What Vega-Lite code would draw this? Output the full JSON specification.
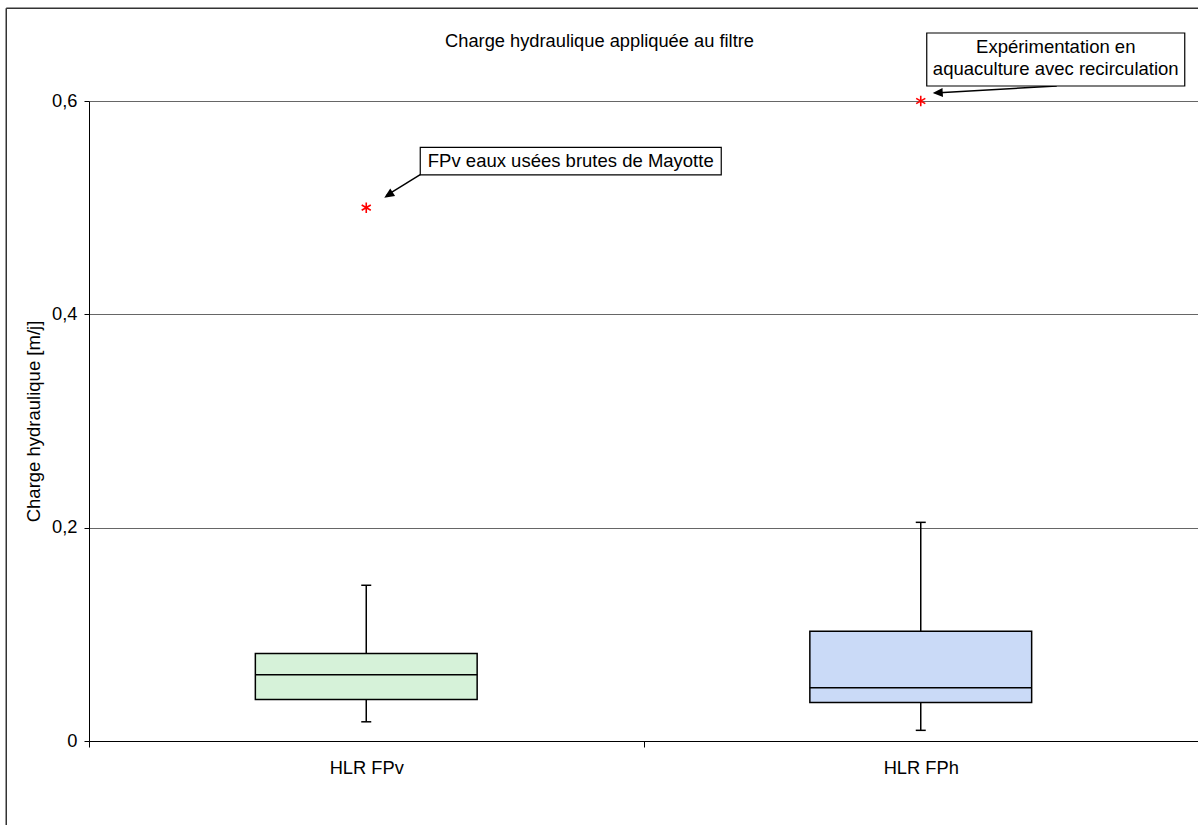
{
  "$schema": "https://vega.github.io/schema/vega-lite/v6.json",
  "width": 1109,
  "height": 640,
  "autosize": {"type": "none"},
  "padding": {"left": 89, "top": 101, "right": 0, "bottom": 84},
  "background": "white",
  "config": {"font": "Liberation Sans", "view": {"stroke": null}},
  "title": {
    "text": "Charge hydraulique appliquée au filtre",
    "fontSize": 18.3,
    "fontWeight": "normal",
    "color": "black",
    "anchor": "middle",
    "baseline": "alphabetic",
    "dx": -44,
    "offset": -57.5
  },
  "datasets": {
    "boxes": [
      {"cat": "HLR FPv", "min": 0.018, "q1": 0.039, "median": 0.062, "q3": 0.082, "max": 0.146},
      {"cat": "HLR FPh", "min": 0.010, "q1": 0.036, "median": 0.050, "q3": 0.103, "max": 0.205}
    ],
    "outliers": [
      {"cat": "HLR FPv", "value": 0.5, "note": "FPv eaux usées brutes de Mayotte"},
      {"cat": "HLR FPh", "value": 0.6, "note": "Expérimentation en\naquaculture avec recirculation"}
    ]
  },
  "layer": [
    {
      "data": {"name": "boxes"},
      "mark": {"type": "rule", "color": "black", "strokeWidth": 1.5},
      "encoding": {
        "x": {
          "field": "cat", "type": "nominal", "sort": ["HLR FPv", "HLR FPh"],
          "scale": {"paddingInner": 0, "paddingOuter": 0},
          "axis": {
            "title": null, "labelAngle": 0, "tickBand": "extent", "tickSize": 6,
            "tickColor": "black", "domainColor": "black", "domainWidth": 1,
            "labelFontSize": 18.3, "labelColor": "black", "labelPadding": 12,
            "labelBaseline": "top", "grid": false
          }
        },
        "y": {
          "field": "min", "type": "quantitative",
          "scale": {"domain": [0, 0.6], "nice": false, "zero": true},
          "axis": {
            "values": [0, 0.2, 0.4, 0.6],
            "labelExpr": "datum.value == 0 ? '0' : replace(format(datum.value, '.1f'), '.', ',')",
            "title": "Charge hydraulique [m/j]",
            "grid": true, "gridColor": "#666666", "gridWidth": 1,
            "domainColor": "black", "tickColor": "black", "tickSize": 5,
            "labelPadding": 7, "labelFontSize": 18.3, "labelColor": "black",
            "titleFontSize": 18.5, "titleFontWeight": "normal", "titleColor": "black",
            "titlePadding": 8
          }
        },
        "y2": {"field": "max"}
      }
    },
    {
      "data": {"name": "boxes"},
      "mark": {"type": "bar", "width": {"band": 0.4}, "stroke": "black", "strokeWidth": 1.5},
      "encoding": {
        "x": {"field": "cat", "type": "nominal", "sort": ["HLR FPv", "HLR FPh"]},
        "y": {"field": "q1", "type": "quantitative", "scale": {"domain": [0, 0.6], "nice": false, "zero": true}},
        "y2": {"field": "q3"},
        "fill": {
          "field": "cat", "type": "nominal",
          "scale": {"domain": ["HLR FPv", "HLR FPh"], "range": ["#d6f2d9", "#cadaf7"]},
          "legend": null
        }
      }
    },
    {
      "data": {"name": "boxes"},
      "mark": {"type": "tick", "size": 222, "thickness": 1.5, "color": "black", "opacity": 1},
      "encoding": {
        "x": {"field": "cat", "type": "nominal", "sort": ["HLR FPv", "HLR FPh"]},
        "y": {"field": "median", "type": "quantitative", "scale": {"domain": [0, 0.6], "nice": false, "zero": true}}
      }
    },
    {
      "data": {"name": "boxes"},
      "mark": {"type": "tick", "size": 10, "thickness": 1.5, "color": "black", "opacity": 1},
      "encoding": {
        "x": {"field": "cat", "type": "nominal", "sort": ["HLR FPv", "HLR FPh"]},
        "y": {"field": "max", "type": "quantitative", "scale": {"domain": [0, 0.6], "nice": false, "zero": true}}
      }
    },
    {
      "data": {"name": "boxes"},
      "mark": {"type": "tick", "size": 10, "thickness": 1.5, "color": "black", "opacity": 1},
      "encoding": {
        "x": {"field": "cat", "type": "nominal", "sort": ["HLR FPv", "HLR FPh"]},
        "y": {"field": "min", "type": "quantitative", "scale": {"domain": [0, 0.6], "nice": false, "zero": true}}
      }
    },
    {
      "data": {"name": "outliers"},
      "mark": {
        "type": "point",
        "shape": "M0,-1L0,1M-0.87,-0.5L0.87,0.5M-0.87,0.5L0.87,-0.5",
        "size": 110, "filled": false, "stroke": "#ff0000", "strokeWidth": 1.6, "opacity": 1
      },
      "encoding": {
        "x": {"field": "cat", "type": "nominal", "sort": ["HLR FPv", "HLR FPh"]},
        "y": {"field": "value", "type": "quantitative", "scale": {"domain": [0, 0.6], "nice": false, "zero": true}}
      }
    },
    {
      "data": {"name": "outliers"},
      "transform": [{"filter": "datum.cat == 'HLR FPv'"}],
      "mark": {"type": "rule", "color": "black", "strokeWidth": 1.5, "xOffset": 54, "yOffset": -33, "x2Offset": 20, "y2Offset": -12},
      "encoding": {
        "x": {"field": "cat", "type": "nominal", "sort": ["HLR FPv", "HLR FPh"]},
        "x2": {"field": "cat"},
        "y": {"field": "value", "type": "quantitative", "scale": {"domain": [0, 0.6], "nice": false, "zero": true}},
        "y2": {"field": "value"}
      }
    },
    {
      "data": {"name": "outliers"},
      "transform": [{"filter": "datum.cat == 'HLR FPv'"}],
      "mark": {
        "type": "point", "shape": "M0,0L-0.45,1L0.45,1Z", "size": 400,
        "filled": true, "color": "black", "opacity": 1, "angle": 237.4,
        "xOffset": 18, "yOffset": -10
      },
      "encoding": {
        "x": {"field": "cat", "type": "nominal", "sort": ["HLR FPv", "HLR FPh"]},
        "y": {"field": "value", "type": "quantitative", "scale": {"domain": [0, 0.6], "nice": false, "zero": true}}
      }
    },
    {
      "data": {"name": "outliers"},
      "transform": [{"filter": "datum.cat == 'HLR FPv'"}],
      "mark": {
        "type": "point", "shape": "M-1,-0.0914L1,-0.0914L1,0.0914L-1,0.0914Z", "size": 90601,
        "filled": true, "fill": "white", "stroke": "black", "strokeWidth": 1.2, "opacity": 1,
        "xOffset": 204.5, "yOffset": -46.5
      },
      "encoding": {
        "x": {"field": "cat", "type": "nominal", "sort": ["HLR FPv", "HLR FPh"]},
        "y": {"field": "value", "type": "quantitative", "scale": {"domain": [0, 0.6], "nice": false, "zero": true}}
      }
    },
    {
      "data": {"name": "outliers"},
      "transform": [{"filter": "datum.cat == 'HLR FPv'"}],
      "mark": {
        "type": "text", "fontSize": 18.5, "color": "black", "align": "center", "baseline": "middle",
        "dx": 204.5, "dy": -46.5
      },
      "encoding": {
        "x": {"field": "cat", "type": "nominal", "sort": ["HLR FPv", "HLR FPh"]},
        "y": {"field": "value", "type": "quantitative", "scale": {"domain": [0, 0.6], "nice": false, "zero": true}},
        "text": {"field": "note"}
      }
    },
    {
      "data": {"name": "outliers"},
      "transform": [{"filter": "datum.cat == 'HLR FPh'"}],
      "mark": {"type": "rule", "color": "black", "strokeWidth": 1.5, "xOffset": 136, "yOffset": -15, "x2Offset": 14, "y2Offset": -8},
      "encoding": {
        "x": {"field": "cat", "type": "nominal", "sort": ["HLR FPv", "HLR FPh"]},
        "x2": {"field": "cat"},
        "y": {"field": "value", "type": "quantitative", "scale": {"domain": [0, 0.6], "nice": false, "zero": true}},
        "y2": {"field": "value"}
      }
    },
    {
      "data": {"name": "outliers"},
      "transform": [{"filter": "datum.cat == 'HLR FPh'"}],
      "mark": {
        "type": "point", "shape": "M0,0L-0.45,1L0.45,1Z", "size": 400,
        "filled": true, "color": "black", "opacity": 1, "angle": 266.8,
        "xOffset": 12, "yOffset": -8
      },
      "encoding": {
        "x": {"field": "cat", "type": "nominal", "sort": ["HLR FPv", "HLR FPh"]},
        "y": {"field": "value", "type": "quantitative", "scale": {"domain": [0, 0.6], "nice": false, "zero": true}}
      }
    },
    {
      "data": {"name": "outliers"},
      "transform": [{"filter": "datum.cat == 'HLR FPh'"}],
      "mark": {
        "type": "point", "shape": "M-1,-0.2054L1,-0.2054L1,0.2054L-1,0.2054Z", "size": 66564,
        "filled": true, "fill": "white", "stroke": "black", "strokeWidth": 1.2, "opacity": 1,
        "xOffset": 135, "yOffset": -41.5
      },
      "encoding": {
        "x": {"field": "cat", "type": "nominal", "sort": ["HLR FPv", "HLR FPh"]},
        "y": {"field": "value", "type": "quantitative", "scale": {"domain": [0, 0.6], "nice": false, "zero": true}}
      }
    },
    {
      "data": {"name": "outliers"},
      "transform": [{"filter": "datum.cat == 'HLR FPh'"}],
      "mark": {
        "type": "text", "fontSize": 18.5, "color": "black", "align": "center", "baseline": "middle",
        "lineBreak": "\n", "lineHeight": 21.6, "dx": 135, "dy": -54
      },
      "encoding": {
        "x": {"field": "cat", "type": "nominal", "sort": ["HLR FPv", "HLR FPh"]},
        "y": {"field": "value", "type": "quantitative", "scale": {"domain": [0, 0.6], "nice": false, "zero": true}},
        "text": {"field": "note"}
      }
    },
    {
      "data": {"values": [{"edge": "top"}]},
      "mark": {"type": "rule", "color": "#333333", "strokeWidth": 1.5, "xOffset": -360, "x2Offset": 300},
      "encoding": {
        "x": {"datum": "HLR FPv", "type": "nominal"},
        "x2": {"datum": "HLR FPh"},
        "y": {"datum": 0.687, "type": "quantitative", "scale": {"domain": [0, 0.6], "nice": false, "zero": true}}
      }
    },
    {
      "data": {"values": [{"edge": "left"}]},
      "mark": {"type": "rule", "color": "#333333", "strokeWidth": 1.5, "xOffset": -360},
      "encoding": {
        "x": {"datum": "HLR FPv", "type": "nominal"},
        "y": {"datum": 0.687, "type": "quantitative", "scale": {"domain": [0, 0.6], "nice": false, "zero": true}},
        "y2": {"datum": -0.1}
      }
    }
  ]
}
